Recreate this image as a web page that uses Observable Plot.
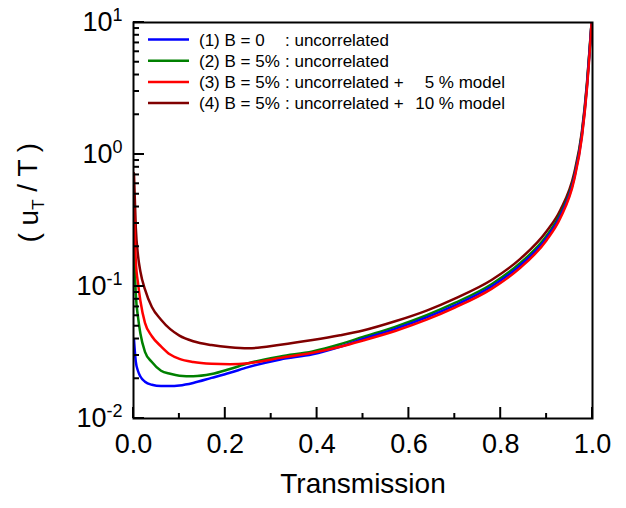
<!DOCTYPE html>
<html><head><meta charset="utf-8">
<script src="https://cdn.jsdelivr.net/npm/d3@7"></script>
<script src="https://cdn.jsdelivr.net/npm/@observablehq/plot@0.6"></script>
<style>
body{margin:0;background:#fff;}
svg{font-family:"Liberation Sans", Arial, sans-serif;}
</style>
</head><body><div id="chart"></div>
<script>
// ---- data ----
const transmission = [0.001, 0.005, 0.01, 0.015, 0.025, 0.04, 0.06, 0.08, 0.10, 0.13, 0.17, 0.21, 0.25, 0.32, 0.39, 0.45, 0.50, 0.57, 0.64, 0.70, 0.78, 0.84, 0.90, 0.93, 0.96, 0.977, 0.988, 0.995, 0.998];
const seriesB0 =        [0.040, 0.027, 0.0228, 0.0208, 0.0190, 0.0180, 0.0176, 0.0176, 0.0178, 0.0186, 0.0203, 0.0222, 0.0245, 0.0280, 0.0307, 0.0350, 0.0400, 0.0477, 0.0586, 0.0720, 0.1000, 0.142, 0.233, 0.343, 0.66, 1.40, 3.3, 7.0, 10];
const seriesB5 =        [0.21, 0.088, 0.058, 0.044, 0.032, 0.0268, 0.0230, 0.0218, 0.0211, 0.0209, 0.0217, 0.0237, 0.0262, 0.0295, 0.0322, 0.0365, 0.0415, 0.0495, 0.0608, 0.0750, 0.1040, 0.148, 0.242, 0.355, 0.68, 1.45, 3.4, 7.2, 10];
const seriesB5model5 =  [0.39, 0.157, 0.105, 0.078, 0.053, 0.042, 0.0352, 0.0305, 0.0283, 0.0268, 0.0260, 0.0258, 0.0262, 0.0288, 0.0315, 0.0350, 0.0390, 0.0460, 0.0563, 0.0692, 0.0960, 0.136, 0.224, 0.330, 0.64, 1.36, 3.2, 6.8, 10];
const seriesB5model10 = [0.72, 0.28, 0.17, 0.13, 0.095, 0.070, 0.056, 0.0475, 0.0425, 0.0385, 0.0360, 0.0346, 0.0340, 0.0362, 0.0393, 0.0427, 0.0464, 0.0545, 0.0660, 0.0810, 0.1120, 0.159, 0.262, 0.38, 0.72, 1.50, 3.5, 7.3, 10];

const legendPrefix = ["(1) B = 0", "(2) B = 5%", "(3) B = 5%", "(4) B = 5%"];
const legendMiddle = [": uncorrelated", ": uncorrelated", ": uncorrelated +", ": uncorrelated +"];
const legendSuffix = ["", "", "5 % model", "10 % model"];
const seriesColors = ["#0000ff", "#008000", "#ff0000", "#800000"];

const xMajorTicks = [0, 0.2, 0.4, 0.6, 0.8, 1.0];
const xMinorTicks = [0.1, 0.3, 0.5, 0.7, 0.9];
const yMajorTicks = [0.01, 0.1, 1, 10];
const yMinorTicks = [0.02,0.03,0.04,0.05,0.06,0.07,0.08,0.09, 0.2,0.3,0.4,0.5,0.6,0.7,0.8,0.9, 2,3,4,5,6,7,8,9];
const yExponents = {0.01: "-2", 0.1: "-1", 1: "0", 10: "1"};

// ---- build ----
const allSeries = [seriesB0, seriesB5, seriesB5model5, seriesB5model10];
const tables = allSeries.map(vals => transmission.map((t, i) => ({T: t, v: vals[i]})));

const W = 626, H = 508, mL = 133, mR = 34, mT = 22, mB = 90;
const drawOrder = [3, 1, 0, 2];

const chart = Plot.plot({
  width: W, height: H,
  marginLeft: mL, marginRight: mR, marginTop: mT, marginBottom: mB,
  style: {fontFamily: "'Liberation Sans', Arial, sans-serif", background: "white", color: "black", overflow: "visible"},
  x: {domain: [0, 1]},
  y: {type: "log", domain: [0.01, 10]},
  marks: [
    ...drawOrder.map(i => Plot.line(tables[i], {x: "T", y: "v", stroke: seriesColors[i], strokeWidth: 2.5, curve: "monotone-x", clip: true})),
    Plot.frame({stroke: "black", strokeWidth: 2}),
    Plot.axisX({ticks: xMajorTicks, tickSize: 0, tickPadding: 15, tickFormat: d3.format(".1f"), fontSize: 27, label: null}),
    Plot.axisY({ticks: yMajorTicks, tickSize: 0, tickPadding: 11, tickFormat: d => yExponents[d], fontSize: 27, label: null}),
    Plot.text(["Transmission"], {frameAnchor: "bottom", dy: 74, fontSize: 28, text: d => d}),
    Plot.text(["( uT / T )"], {frameAnchor: "left", dx: -104, dy: 22, rotate: -90, fontSize: 28, text: d => d})
  ]
});
document.getElementById("chart").appendChild(chart);

const svg = d3.select(chart);
const sx = chart.scale("x"), sy = chart.scale("y");
const x0 = sx.apply(0), yB = sy.apply(0.01);

// inward ticks drawn through the plot's scales
const tk = svg.append("g").attr("stroke", "black").attr("stroke-width", 2);
[[xMajorTicks, 11], [xMinorTicks, 5]].forEach(([arr, len]) => arr.forEach(v => {
  const px = sx.apply(v);
  tk.append("line").attr("x1", px).attr("x2", px).attr("y1", yB).attr("y2", yB - len);
}));
[[yMajorTicks, 11], [yMinorTicks, 6]].forEach(([arr, len]) => arr.forEach(v => {
  const py = sy.apply(v);
  tk.append("line").attr("x1", x0).attr("x2", x0 + len).attr("y1", py).attr("y2", py);
}));

// superscript exponents on y tick labels
svg.selectAll('g[aria-label="y-axis tick label"] text').each(function() {
  const t = d3.select(this);
  const exp = t.text();
  t.text("");
  t.append("tspan").text("10");
  t.append("tspan").attr("dy", "-0.55em").attr("font-size", "18px").text(exp);
});
// subscript on y title
svg.selectAll('g[aria-label="text"] text').each(function() {
  const t = d3.select(this);
  if (t.text() === "( uT / T )") {
    t.text("");
    t.append("tspan").text("( u");
    t.append("tspan").attr("dy", "0.35em").attr("font-size", "17px").text("T");
    t.append("tspan").attr("dy", "-0.25em").text(" / T )");
  }
});
// legend
const lg = svg.append("g").attr("font-size", 17).attr("fill", "black").attr("text-anchor", "start");
legendPrefix.forEach((p, i) => {
  const y = mT + 17.5 + i * 21.2;
  lg.append("line").attr("x1", mL + 15).attr("x2", mL + 56).attr("y1", y).attr("y2", y)
    .attr("stroke", seriesColors[i]).attr("stroke-width", 2.5);
  lg.append("text").attr("x", mL + 66).attr("y", y).attr("dy", "0.36em").text(p);
  lg.append("text").attr("x", mL + 152).attr("y", y).attr("dy", "0.36em").text(legendMiddle[i]);
  if (legendSuffix[i]) lg.append("text").attr("x", mL + 372).attr("y", y).attr("dy", "0.36em").attr("text-anchor", "end").text(legendSuffix[i]);
});
</script>
</body></html>
